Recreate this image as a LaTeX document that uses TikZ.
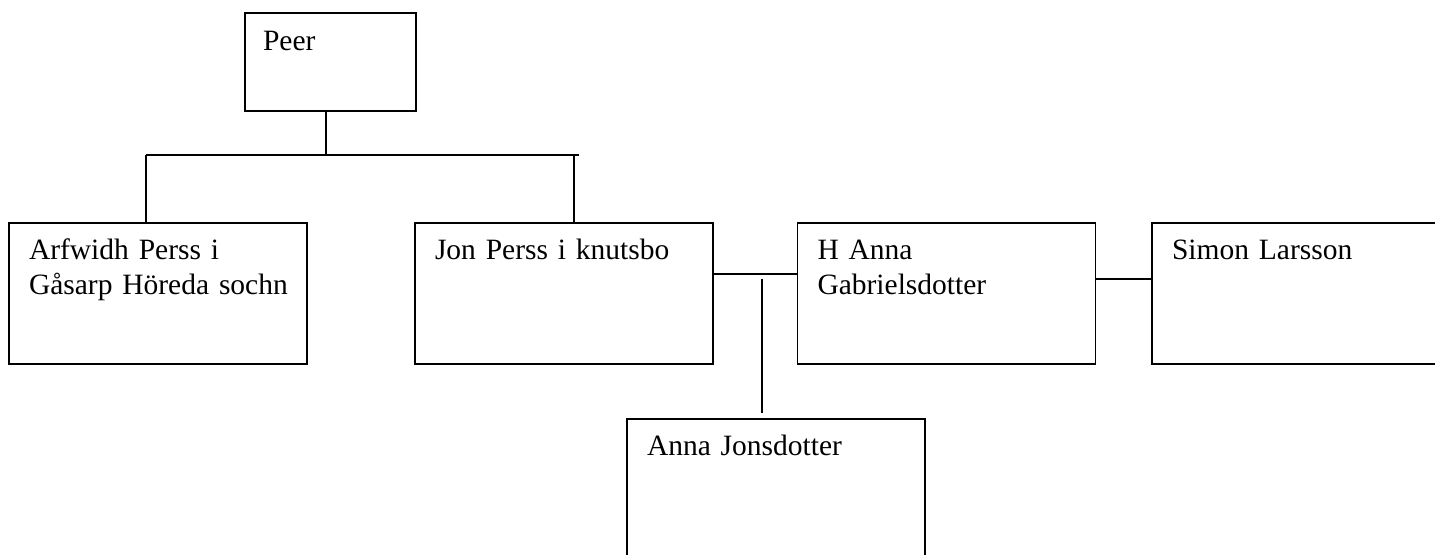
\documentclass[tikz,border=0pt]{standalone}
\usepackage{fontspec}
\setmainfont{Liberation Serif}
\begin{document}
\begin{tikzpicture}[x=0.5pt, y=-0.5pt, line width=0.65pt,
    person/.style={draw, rectangle, inner sep=0pt, minimum width=149pt, minimum height=70.5pt},
    persontext/.style={anchor=base west, inner sep=0pt, text width=140pt, align=left,
        font=\fontsize{14.75}{17.5}\selectfont}]
    \useasboundingbox (0,0) rectangle (1435,555);

    % Row 1
    \node[person, minimum width=85.5pt, minimum height=49pt] (peer) at (330.5,62) {};
    \node[persontext] (peer-t) at ([xshift=9pt, yshift=-19pt]peer.north west) {Peer};

    % Row 2
    \node[person] (arfwidh) at (158,293.5) {};
    \node[person] (jon) at (564,293.5) {};
    \node[person] (hanna) at (946.5,293.5) {};
    \node[person] (simon) at (1301,293.5) {};
    \node[persontext] (arfwidh-t) at ([xshift=10pt, yshift=-18.5pt]arfwidh.north west) {Arfwidh Perss i\\Gåsarp Höreda sochn};
    \node[persontext] (jon-t) at ([xshift=10pt, yshift=-18.5pt]jon.north west) {Jon Perss i knutsbo};
    \node[persontext] (hanna-t) at ([xshift=10pt, yshift=-18.5pt]hanna.north west) {H Anna\\Gabrielsdotter};
    \node[persontext] (simon-t) at ([xshift=10pt, yshift=-18.5pt]simon.north west) {Simon Larsson};

    % Row 3
    \node[person] (anna) at (776,489.5) {};
    \node[persontext] (anna-t) at ([xshift=10pt, yshift=-18.5pt]anna.north west) {Anna Jonsdotter};

    % Joints
    \coordinate (fork) at (326,155);
    \coordinate (fork-l) at (146,155);
    \coordinate (fork-r) at (579,155);
    \coordinate (fork-j) at (574,155);
    \coordinate (wed) at (762,274);
    \coordinate (drop-a) at (762,279);
    \coordinate (drop-b) at (762,413);
    \coordinate (wed2) at (1124,279);

    % Edges
    \draw (fork |- peer.south) -- (fork);
    \draw (fork-l) -- (fork-r);
    \draw (fork-l) -- (fork-l |- arfwidh.north);
    \draw (fork-j) -- (fork-j |- jon.north);
    \draw (jon.east |- wed) -- (hanna.west |- wed);
    \draw (drop-a) -- (drop-b);
    \draw (hanna.east |- wed2) -- (simon.west |- wed2);
\end{tikzpicture}
\end{document}
